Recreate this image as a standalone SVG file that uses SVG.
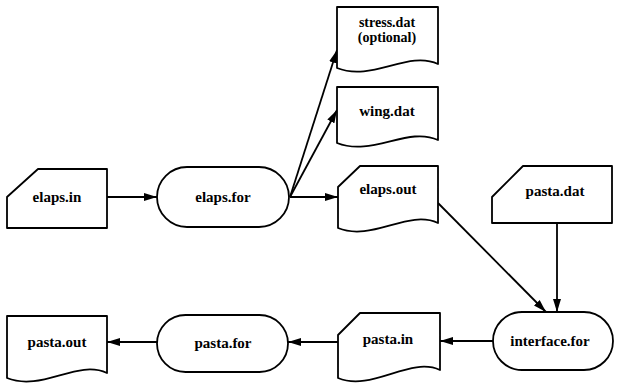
<svg xmlns="http://www.w3.org/2000/svg" width="617" height="385" viewBox="0 0 617 385">
<style>
.shape{fill:#fff;stroke:#000;stroke-width:1.8;stroke-linejoin:round}
.lbl{font-family:"Liberation Serif","Times New Roman",serif;font-weight:bold;font-size:15px;fill:#000;text-anchor:middle}
.sm{font-size:14px}
.edge{fill:none;stroke:#000;stroke-width:1.8}
</style>
<defs>
<marker id="ah" markerUnits="userSpaceOnUse" markerWidth="14" markerHeight="10" refX="13" refY="5" orient="auto">
<path d="M0,1 L13,5 L0,9 Z" fill="#000"/>
</marker>
</defs>
<rect width="617" height="385" fill="#fff"/>
<g id="edges">
<path class="edge" d="M107,197 L157,197" marker-end="url(#ah)"/>
<path class="edge" d="M290,197 L337,50" marker-end="url(#ah)"/>
<path class="edge" d="M290,197 L337,110" marker-end="url(#ah)"/>
<path class="edge" d="M290,197 L338,197" marker-end="url(#ah)"/>
<path class="edge" d="M438,203 L546,312" marker-end="url(#ah)"/>
<path class="edge" d="M557,223 L557,312" marker-end="url(#ah)"/>
<path class="edge" d="M493,341 L440,341" marker-end="url(#ah)"/>
<path class="edge" d="M338,342 L288,342" marker-end="url(#ah)"/>
<path class="edge" d="M157,342 L107,342" marker-end="url(#ah)"/>
</g>
<g id="elaps_in">
<path class="shape" d="M38,169 H107 V228 H7 V197 Z"/>
<text class="lbl" x="57" y="202">elaps.in</text>
</g>
<g id="elaps_for">
<rect class="shape" x="157" y="167" width="132" height="60" rx="30" ry="30"/>
<text class="lbl" x="223" y="202">elaps.for</text>
</g>
<g id="stress_dat">
<path class="shape" d="M337,7 H438 V64 C408,50 372,82 337,68 Z"/>
<text class="lbl sm" x="387" y="27">stress.dat</text>
<text class="lbl sm" x="387" y="42">(optional)</text>
</g>
<g id="wing_dat">
<path class="shape" d="M337,87 H438 V140 C408,126 372,157 337,143 Z"/>
<text class="lbl" x="387" y="116">wing.dat</text>
</g>
<g id="elaps_out">
<path class="shape" d="M360,166 H438 V223 C408,209 372,242 338,228 V187 Z"/>
<text class="lbl" x="388" y="194">elaps.out</text>
</g>
<g id="pasta_dat">
<path class="shape" d="M523,166 H612 V223 H492 V197 Z"/>
<text class="lbl" x="555" y="196">pasta.dat</text>
</g>
<g id="interface_for">
<rect class="shape" x="493" y="312" width="120" height="58" rx="29" ry="29"/>
<text class="lbl" x="550" y="346">interface.for</text>
</g>
<g id="pasta_in">
<path class="shape" d="M360,313 H440 V370 C410,356 372,392 338,378 V335 Z"/>
<text class="lbl" x="388" y="344">pasta.in</text>
</g>
<g id="pasta_for">
<rect class="shape" x="157" y="315" width="131" height="57" rx="28.5" ry="28.5"/>
<text class="lbl" x="223" y="348">pasta.for</text>
</g>
<g id="pasta_out">
<path class="shape" d="M7,316 H107 V373 C77,359 42,392 7,378 Z"/>
<text class="lbl" x="57" y="347">pasta.out</text>
</g>
</svg>
